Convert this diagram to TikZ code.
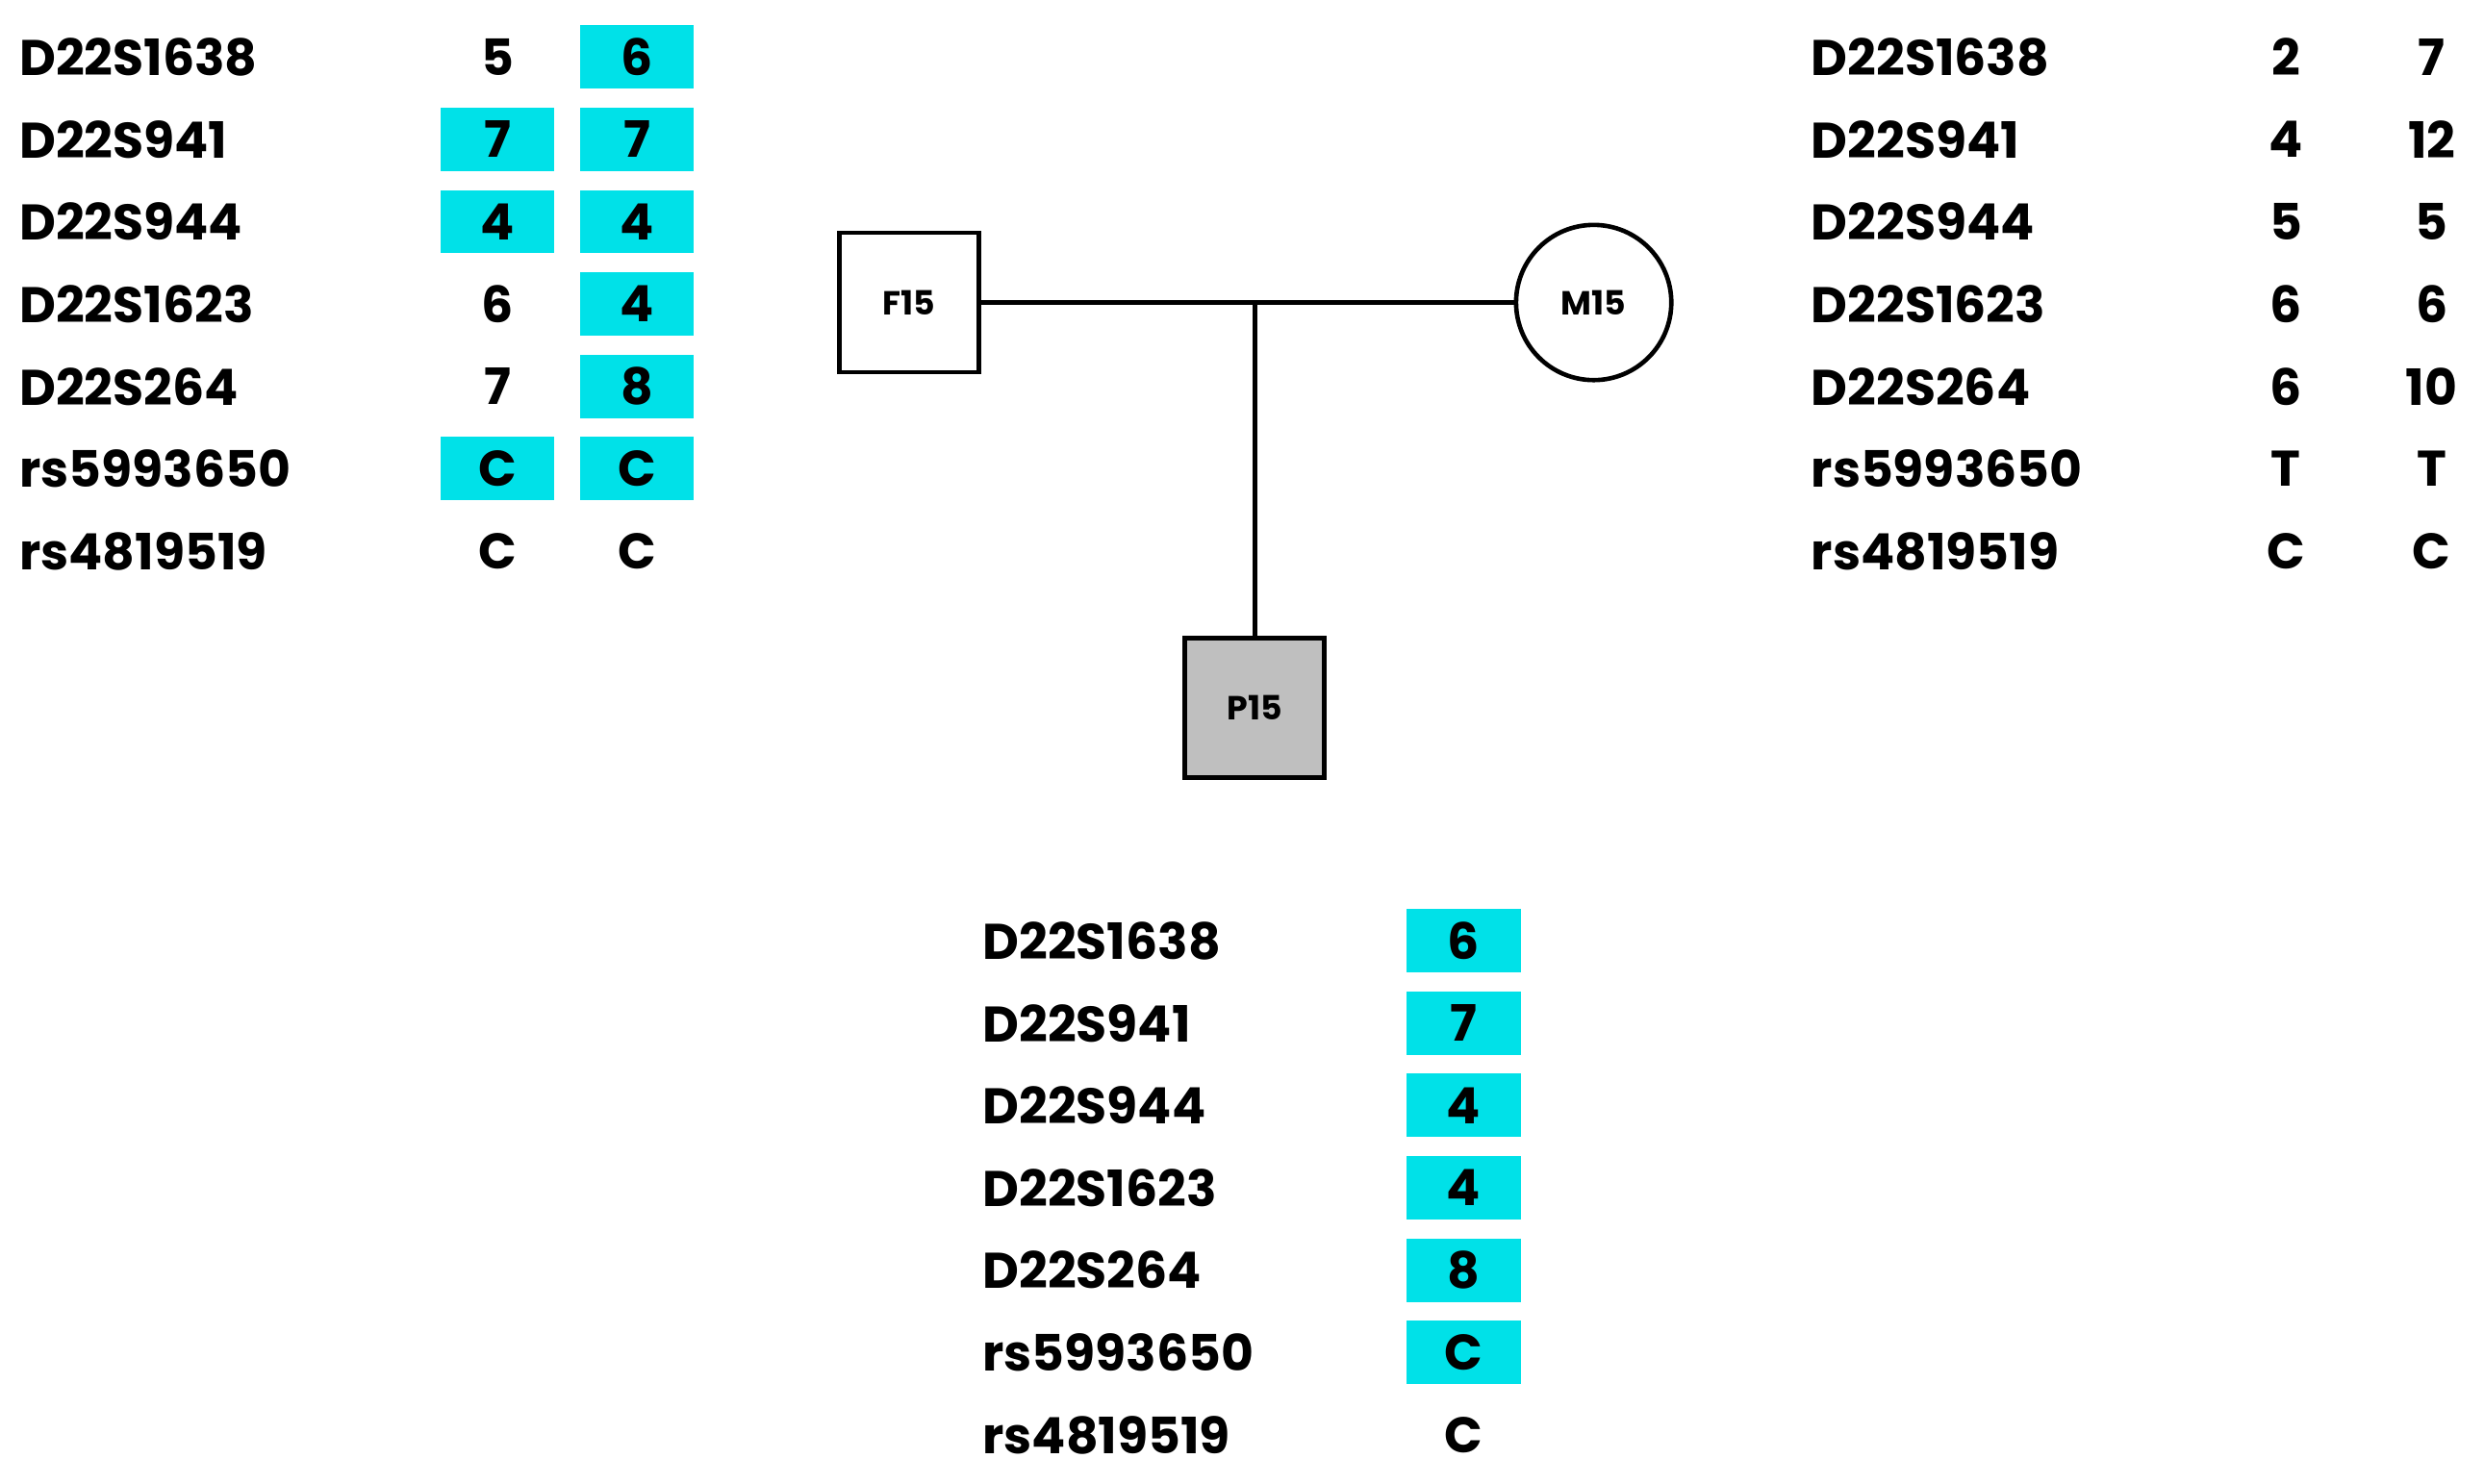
\documentclass[tikz,border=0pt]{standalone}
\usepackage{fontspec}
\setmainfont{Poppins}
\definecolor{hl}{HTML}{00E1E8}
\begin{document}
\begin{tikzpicture}[x=0.02cm,y=-0.02cm,
  lab/.style={anchor=west,inner sep=0,font=\fontsize{18}{20}\selectfont\bfseries},
  val/.style={inner sep=0,font=\fontsize{18}{20}\selectfont\bfseries},
  hv/.style={val,fill=hl,minimum width=72*0.02cm,minimum height=40*0.02cm},
  ind/.style={draw,line width=1.6pt,minimum size=88*0.02cm,inner sep=0,font=\fontsize{12}{14}\selectfont\bfseries}]
\useasboundingbox (0,0) rectangle (1568,937);
\def\names{D22S1638,D22S941,D22S944,D22S1623,D22S264,rs5993650,rs4819519}
% left
\foreach \n [count=\i] in \names {\node[lab] (l\i) at (12,{36+52*(\i-1)}) {\n};}
\foreach \v/\h [count=\i] in {5/0,7/1,4/1,6/0,7/0,C/1,C/0} {
  \ifnum\h=1 \node[hv] (la\i) at (314,{36+52*(\i-1)}) {\v};\else\node[val] (la\i) at (314,{36+52*(\i-1)}) {\v};\fi}
\foreach \v/\h [count=\i] in {6/1,7/1,4/1,4/1,8/1,C/1,C/0} {
  \ifnum\h=1 \node[hv] (lb\i) at (402,{36+52*(\i-1)}) {\v};\else\node[val] (lb\i) at (402,{36+52*(\i-1)}) {\v};\fi}
% right
\foreach \n [count=\i] in \names {\node[lab] (r\i) at (1143,{36+52*(\i-1)}) {\n};}
\foreach \v [count=\i] in {2,4,5,6,6,T,C} {\node[val] (ra\i) at (1443,{36+52*(\i-1)}) {\v};}
\foreach \v [count=\i] in {7,12,5,6,10,T,C} {\node[val] (rb\i) at (1535,{36+52*(\i-1)}) {\v};}
% bottom
\foreach \n [count=\i] in \names {\node[lab] (b\i) at (620,{594+52*(\i-1)}) {\n};}
\foreach \v/\h [count=\i] in {6/1,7/1,4/1,4/1,8/1,C/1,C/0} {
  \ifnum\h=1 \node[hv] (ba\i) at (924,{594+52*(\i-1)}) {\v};\else\node[val] (ba\i) at (924,{594+52*(\i-1)}) {\v};\fi}
% pedigree
\node[ind] (F) at (574,191) {F15};
\node[ind,circle,minimum size=98*0.02cm] (M) at (1006,191) {M15};
\node[ind,fill=black!25] (P) at (792,447) {P15};
\coordinate (J) at (792,191);
\draw[line width=1.6pt] (F) -- (M);
\draw[line width=1.6pt] (J) -- (P);
\end{tikzpicture}
\end{document}
